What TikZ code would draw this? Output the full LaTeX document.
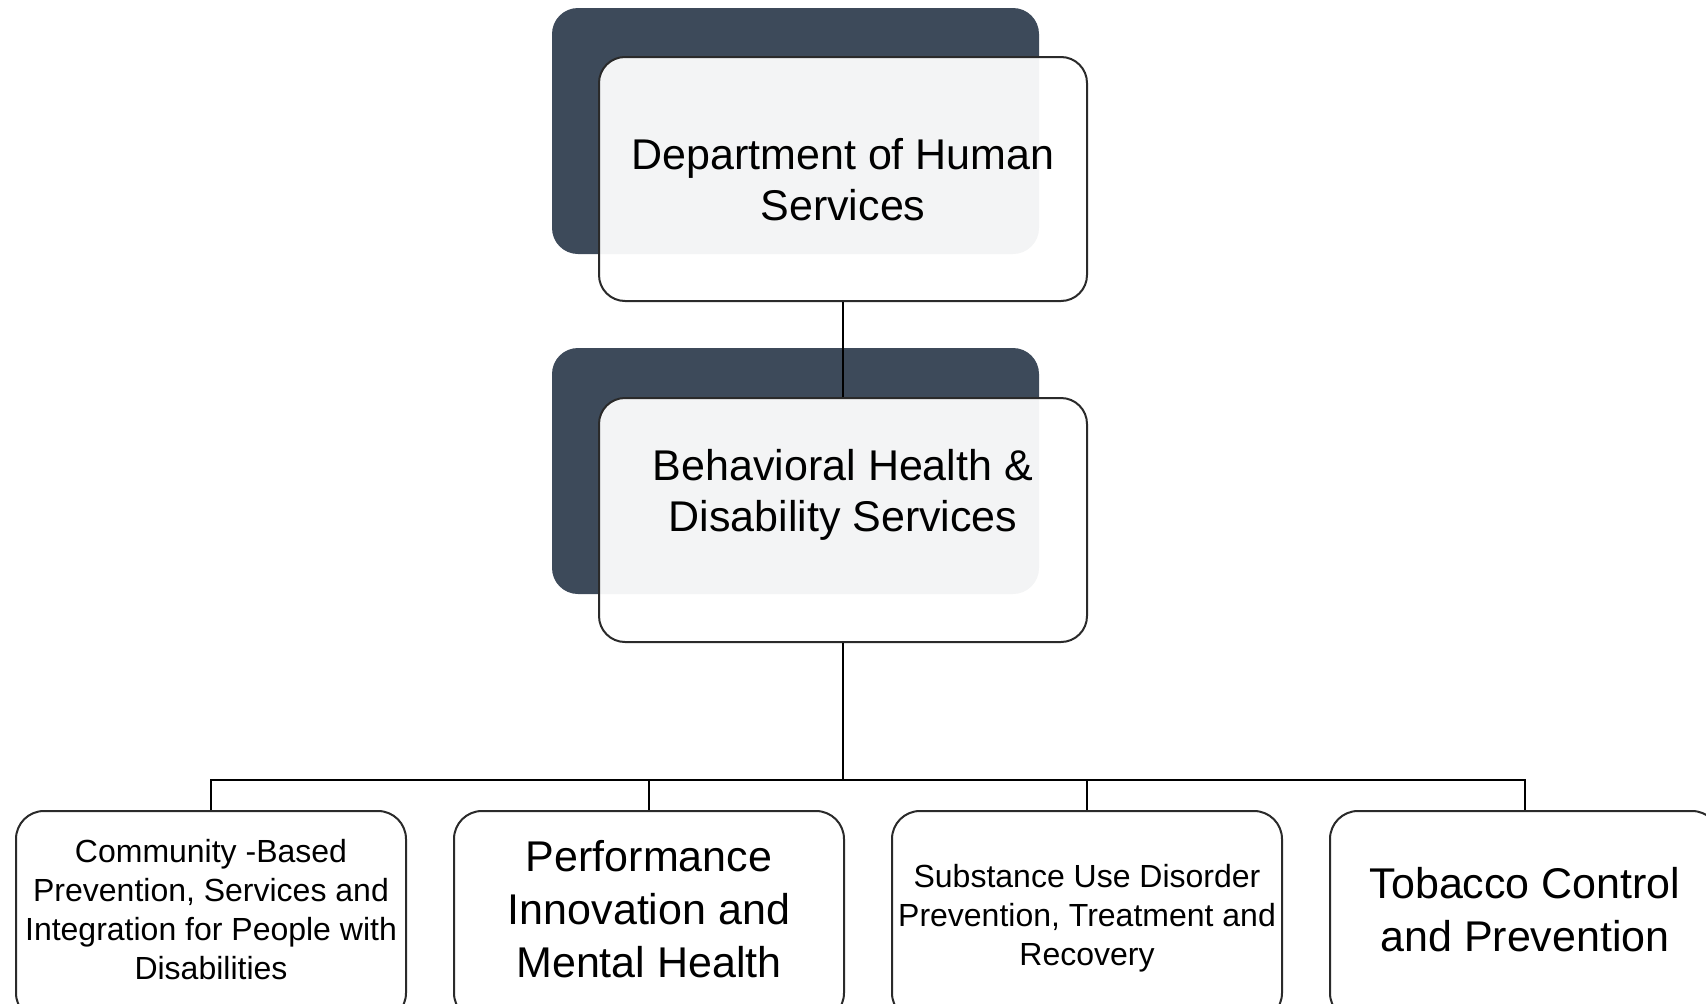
\documentclass[tikz,border=0pt]{standalone}
\usepackage{fontspec}
\setmainfont{Liberation Sans}
\definecolor{darkslate}{HTML}{3D4A5A}
\definecolor{edgegray}{HTML}{2A2A2A}
\begin{document}
\begin{tikzpicture}[x=1pt,y=-1pt,
  backbox/.style={draw=none,fill=darkslate,rounded corners=26pt,minimum width=487pt,minimum height=246pt,inner sep=0pt},
  frontbox/.style={draw=edgegray,line width=2pt,fill=white,fill opacity=0.94,draw opacity=1,rounded corners=26pt,minimum width=488pt,minimum height=244pt,inner sep=0pt},
  unitbox/.style={draw=edgegray,line width=2pt,fill=white,rounded corners=28pt,minimum width=390pt,minimum height=210pt,inner sep=0pt},
  bigtext/.style={align=center,font=\fontsize{43}{51}\selectfont,text=black},
  midtext/.style={align=center,font=\fontsize{43}{53}\selectfont,text=black},
  smalltext/.style={align=center,font=\fontsize{32}{39}\selectfont,text=black},
  conn/.style={draw=black,line width=2pt}]
\clip (0,0) rectangle (1706,1004);
\useasboundingbox (0,0) rectangle (1706,1004);

% back blocks
\node[backbox] (topback) at (795.5,131) {};
\node[backbox] (midback) at (795.5,471) {};

% top block
\node[frontbox] (top) at (843,179) {};
\node[bigtext] (toplabel) at (843,180) {Department of Human\\Services};

% middle block
\draw[conn] (top.south) -- (843,398) coordinate (midtop);
\node[frontbox] (mid) at (843,520) {};
\node[bigtext] (midlabel) at (843,495) {Behavioral Health \&\\Disability Services};

% bottom units
\node[unitbox] (u1) at (211,916) {};
\node[unitbox] (u2) at (649,916) {};
\node[unitbox] (u3) at (1087,916) {};
\node[unitbox] (u4) at (1525,916) {};

\node[smalltext] (l1) at (211,910) {Community -Based\\Prevention, Services and\\Integration for People with\\Disabilities};
\node[midtext] (l2) at (649,909) {Performance\\Innovation and\\Mental Health};
\node[smalltext] (l3) at (1087,918) {Substance Use Disorder\\Prevention, Treatment and\\Recovery};
\node[midtext] (l4) at (1525,909.5) {Tobacco Control\\and Prevention};

% connectors
\coordinate (bus) at (843,780);
\draw[conn] (mid.south) -- (bus);
\draw[conn] (u1.north) |- (bus);
\draw[conn] (u2.north) |- (bus);
\draw[conn] (u3.north) |- (bus);
\draw[conn] (u4.north) |- (bus);
\end{tikzpicture}
\end{document}
